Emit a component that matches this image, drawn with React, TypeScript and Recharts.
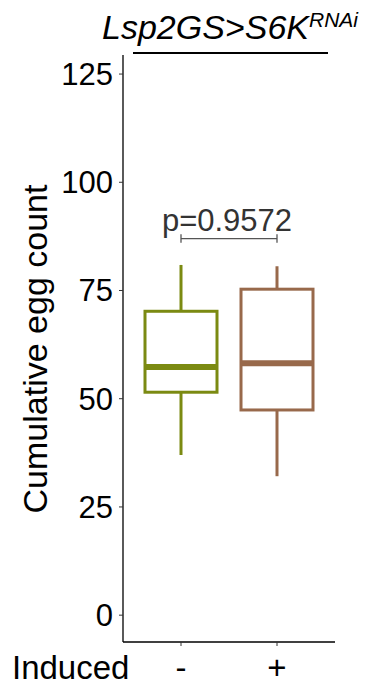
import React from 'react';
import { ComposedChart, Bar, XAxis, YAxis, ReferenceLine } from 'recharts';

const groups = ['-', '+'];
const whiskerLow = [37.0, 32.1];
const lowerQuartile = [51.5, 47.4];
const medians = [57.3, 58.2];
const upperQuartile = [70.2, 75.3];
const whiskerHigh = [80.9, 80.6];
const boxColors = ['#7B8A12', '#98694B'];
const yTicks = [0, 25, 50, 75, 100, 125];
const pLabel = 'p=0.9572';
const bracketY = 87.0;
const bracketTip = 1;

const data = groups.map((g, i) => ({
    group: g,
    box: [lowerQuartile[i], upperQuartile[i]],
    lo: whiskerLow[i],
    med: medians[i],
    hi: whiskerHigh[i],
    color: boxColors[i],
}));

const FONT = '"Liberation Sans", Arial, Helvetica, sans-serif';

const BoxShape = (props: any) => {
    const { x, y, width, height, payload } = props;
    const [q1, q3] = payload.box;
    const top = Math.min(y, y + height);
    const h = Math.abs(height);
    const k = h / (q3 - q1);
    const py = (v: number) => top + (q3 - v) * k;
    const cx = x + width / 2;
    const c = payload.color;
    return (
        <g>
            <line x1={cx} x2={cx} y1={py(payload.hi)} y2={top} stroke={c} strokeWidth={3} />
            <line x1={cx} x2={cx} y1={top + h} y2={py(payload.lo)} stroke={c} strokeWidth={3} />
            <rect x={x} y={top} width={width} height={h} fill="#fff" stroke={c} strokeWidth={3} />
            <line x1={x} x2={x + width} y1={py(payload.med)} y2={py(payload.med)} stroke={c} strokeWidth={6} />
        </g>
    );
};

// p-value text sits just above the bracket
const PLabel = (props: any) => {
    const vb = props.viewBox || {};
    const cx = (vb.x ?? 0) + (vb.width ?? 0) / 2 - 2;
    return (
        <text x={cx} y={(vb.y ?? 0) - 8} textAnchor="middle" fontSize={31} fill="#333" fontFamily={FONT}>
            {pLabel}
        </text>
    );
};

export default function App() {
    return (
        <div style={{ position: 'absolute', left: 0, top: 0, width: 365, height: 686, background: '#fff' }}>
            <ComposedChart
                width={365}
                height={686}
                data={data}
                margin={{ top: 55, right: 30, bottom: 0, left: 0 }}
            >
                <XAxis
                    dataKey="group"
                    height={44}
                    padding={{ left: 10, right: 10 }}
                    axisLine={{ stroke: '#000', strokeWidth: 1.3 }}
                    tickLine={{ stroke: '#333' }}
                    tickSize={4}
                    tickMargin={10}
                    tick={{ fontSize: 33, fill: '#000', fontFamily: FONT }}
                />
                <YAxis
                    width={123}
                    domain={[-6.2, 129.4]}
                    ticks={yTicks}
                    allowDataOverflow
                    axisLine={{ stroke: '#000', strokeWidth: 1.3 }}
                    tickLine={{ stroke: '#333' }}
                    tickSize={4}
                    tickMargin={6}
                    tick={{ fontSize: 31, fill: '#000', fontFamily: FONT }}
                />
                <Bar dataKey="box" barSize={72} shape={BoxShape} isAnimationActive={false} />
                <ReferenceLine
                    segment={[{ x: groups[0], y: bracketY }, { x: groups[1], y: bracketY }]}
                    stroke="#555"
                    strokeWidth={1.3}
                    label={<PLabel />}
                />
                <ReferenceLine
                    segment={[{ x: groups[0], y: bracketY - bracketTip }, { x: groups[0], y: bracketY + bracketTip }]}
                    stroke="#555"
                    strokeWidth={1.3}
                />
                <ReferenceLine
                    segment={[{ x: groups[1], y: bracketY - bracketTip }, { x: groups[1], y: bracketY + bracketTip }]}
                    stroke="#555"
                    strokeWidth={1.3}
                />
            </ComposedChart>
            <svg width={365} height={686} style={{ position: 'absolute', left: 0, top: 0, pointerEvents: 'none' }}>
                <text x={102} y={39} fontSize={34} fontStyle="italic" fontFamily={FONT} fill="#000">
                    Lsp2GS&gt;S6K
                    <tspan fontSize={21} dy={-12}>RNAi</tspan>
                </text>
                <line x1={133} x2={328} y1={53} y2={53} stroke="#000" strokeWidth={2} />
                <text
                    x={35}
                    y={349}
                    transform="rotate(-90 35 349)"
                    textAnchor="middle"
                    dominantBaseline="central"
                    fontSize={34}
                    fontFamily={FONT}
                    fill="#000"
                >
                    Cumulative egg count
                </text>
                <text x={12} y={679} fontSize={33} fontFamily={FONT} fill="#000">
                    Induced
                </text>
            </svg>
        </div>
    );
}
